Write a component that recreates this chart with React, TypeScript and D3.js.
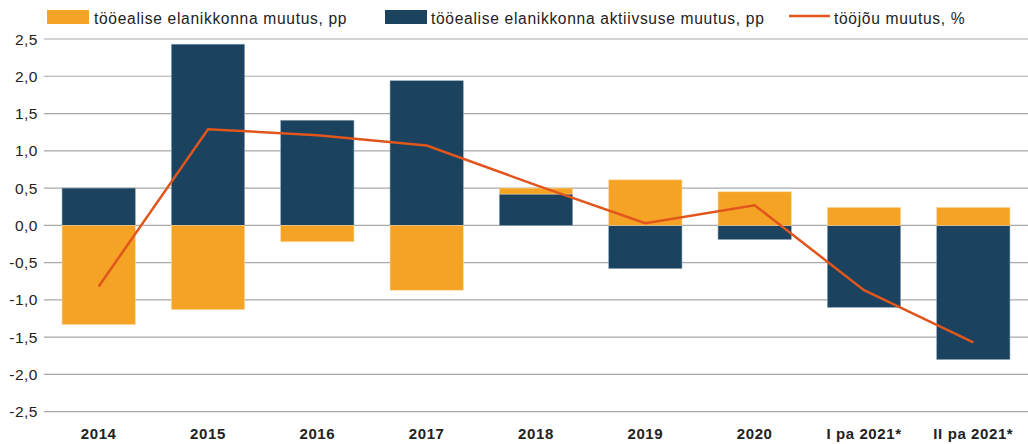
import React from "react";
import * as d3 from "d3";

const categories = ["2014", "2015", "2016", "2017", "2018", "2019", "2020", "I pa 2021*", "II pa 2021*"];
const populationChange = [-1.33, -1.13, -0.22, -0.87, 0.08, 0.61, 0.45, 0.24, 0.24];
const activityChange = [0.5, 2.43, 1.41, 1.94, 0.42, -0.58, -0.19, -1.1, -1.8];
const laborChange = [-0.82, 1.29, 1.21, 1.07, 0.54, 0.03, 0.27, -0.87, -1.57];
const yTicks = [2.5, 2.0, 1.5, 1.0, 0.5, 0.0, -0.5, -1.0, -1.5, -2.0, -2.5];
const legendLabels = [
  "tööealise elanikkonna muutus, pp",
  "tööealise elanikkonna aktiivsuse muutus, pp",
  "tööjõu muutus, %",
];

const W = 1028;
const H = 444;
const ORANGE = "#f4a324";
const DARK = "#1b425e";
const LINE = "#e0561c";
const FONT = "'Liberation Sans', Arial, Helvetica, sans-serif";

export default function App() {
  const x = d3
    .scaleBand<string>()
    .domain(categories)
    .range([44, 1028])
    .paddingInner(0.33)
    .paddingOuter(0.165);
  const y = d3.scaleLinear().domain([-2.5, 2.5]).range([411.7, 39]);

  const rows = categories.map((c, i) => ({
    cat: c,
    dark: activityChange[i],
    orange: populationChange[i],
  }));
  const stack = d3
    .stack<any>()
    .keys(["dark", "orange"])
    .offset(d3.stackOffsetDiverging);
  const series = stack(rows);
  const colors: Record<string, string> = { dark: DARK, orange: ORANGE };
  const strokes: Record<string, string> = { dark: "#8aa2b4", orange: "#fbd79a" };

  const line = d3
    .line<number>()
    .x((_, i) => (x(categories[i]) as number) + x.bandwidth() / 2)
    .y((d) => y(d));

  const fmt = (v: number) => d3.format(".1f")(v).replace(".", ",").replace("−", "-");

  return (
    <svg width={W} height={H} style={{ display: "block", position: "absolute", left: 0, top: 0 }} fontFamily={FONT}>
      <rect width={W} height={H} fill="#fff" />
      {/* legend */}
      <g fontSize={15.6} fill="#222" letterSpacing={0.68}>
        <rect x={47} y={10} width={42} height={14} fill={ORANGE} />
        <text x={94} y={23.5}>{legendLabels[0]}</text>
        <rect x={385} y={10} width={42} height={14} fill={DARK} />
        <text x={431} y={23.5}>{legendLabels[1]}</text>
        <line x1={789} x2={830} y1={16} y2={16} stroke={LINE} strokeWidth={2.5} />
        <text x={834} y={23.5}>{legendLabels[2]}</text>
      </g>
      {/* grid */}
      <g>
        {yTicks.map((t) => (
          <g key={t}>
            <line x1={44} x2={W} y1={y(t)} y2={y(t)} stroke="#a9a9a9" strokeWidth={1.2} />
            <text x={38} y={y(t) + 5.5} textAnchor="end" fontSize={15.5} fill="#222" letterSpacing={0.5}>
              {fmt(t)}
            </text>
          </g>
        ))}
      </g>
      {/* bars */}
      {series.map((s) => (
        <g key={s.key}>
          {s.map((d, i) => {
            const y0 = y(d[0]);
            const y1 = y(d[1]);
            return (
              <rect
                key={i}
                x={x(categories[i]) as number}
                width={x.bandwidth()}
                y={Math.min(y0, y1)}
                height={Math.abs(y1 - y0)}
                fill={colors[s.key]}
                stroke={strokes[s.key]}
                strokeWidth={0.6}
              />
            );
          })}
        </g>
      ))}
      {/* line */}
      <path d={line(laborChange) as string} fill="none" stroke={LINE} strokeWidth={2.5} />
      {/* x labels */}
      <g fontSize={15} fontWeight="bold" fill="#222" letterSpacing={0.6}>
        {categories.map((c) => (
          <text key={c} x={(x(c) as number) + x.bandwidth() / 2} y={439} textAnchor="middle">
            {c}
          </text>
        ))}
      </g>
    </svg>
  );
}
